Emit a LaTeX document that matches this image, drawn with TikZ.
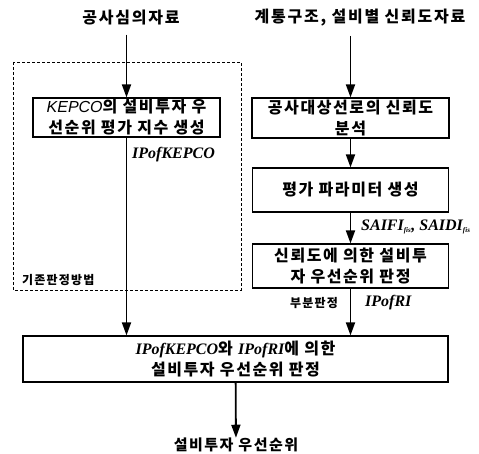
\documentclass[tikz,border=0pt]{standalone}
\usepackage{fontspec}
\setmainfont{Liberation Serif}
\newfontfamily\kr{Noto Sans CJK KR}[LetterSpace=10]
\newfontfamily\krw{Noto Sans CJK KR}[LetterSpace=11]
\newfontfamily\tnr{Liberation Serif}
\newfontfamily\ars{Liberation Sans}
\usetikzlibrary{arrows.meta}
\newcommand{\ipo}[1]{{\tnr\bfseries\itshape #1}}
\tikzset{
  box/.style={draw, line width=1.2pt, align=center, inner sep=0pt,
    font=\kr\bfseries\fontsize{16}{21}\selectfont},
  lbl/.style={inner sep=0pt, font=\kr\bfseries\fontsize{15}{20}\selectfont},
  title/.style={inner sep=0pt, font=\krw\bfseries\fontsize{16}{20}\selectfont},
  tag/.style={inner sep=0pt, font=\fontsize{16}{16}\selectfont},
  flow/.style={line width=1.8pt, -{Triangle[length=13pt,width=9pt]}},
}
\begin{document}
\begin{tikzpicture}[x=1pt,y=-1pt]
\useasboundingbox (0,0) rectangle (479,454);
% dashed group
\draw[line width=0.8pt, dash pattern=on 3pt off 2pt] (13,62) rectangle (241,290);
% nodes
\node[title] (src1) at (131,18) {공사심의자료};
\node[title] (src2) at (360,18) {계통구조, 설비별 신뢰도자료};
\node[box, minimum width=187pt, minimum height=39pt] (kepco) at (126.5,117.5)
  {{\ars\itshape\mdseries KEPCO}의 설비투자 우\\선순위 평가 지수 생성};
\node[box, minimum width=197pt, minimum height=40pt] (ana) at (350.5,118)
  {공사대상선로의 신뢰도\\분석};
\node[box, minimum width=196pt, minimum height=44pt] (par) at (350.5,190)
  {평가 파라미터 생성};
\node[box, minimum width=196pt, minimum height=44pt] (rel) at (350.5,266)
  {신뢰도에 의한 설비투\\자 우선순위 판정};
\node[box, minimum width=425pt, minimum height=46pt] (final) at (235.5,359)
  {\ipo{IPofKEPCO}와 \ipo{IPofRI}에 의한\\설비투자 우선순위 판정};
\node[lbl] (result) at (236,445) {설비투자 우선순위};
% labels
\node[tag, anchor=west] (l1) at (132,155) {\ipo{IPofKEPCO}};
\node[tag, anchor=west] (l2) at (361,227)
  {\ipo{SAIFI}$_{\mbox{\scriptsize\ipo{fis}}}$\ipo{, SAIDI}$_{\mbox{\scriptsize\ipo{fis}}}$};
\node[lbl, anchor=west, font=\kr\bfseries\fontsize{12}{12}\selectfont] (l3) at (22,280) {기존판정방법};
\node[lbl, anchor=east, font=\kr\bfseries\fontsize{12}{12}\selectfont] (l4) at (338,303) {부분판정};
\node[tag, anchor=west] (l5) at (365,303) {\ipo{IPofRI}};
% connectors
\draw[flow, shorten <=9pt] (src1.south -| kepco.north) -- (kepco.north);
\draw[flow, shorten <=9pt] (src2.south -| ana.north) -- (ana.north);
\draw[flow] (ana) -- (par);
\draw[flow] (par) -- (rel);
\draw[flow] (kepco.south) -- (kepco.south |- final.north);
\draw[flow] (rel.south) -- (rel.south |- final.north);
\draw[flow] (final) -- (result);
\end{tikzpicture}
\end{document}
